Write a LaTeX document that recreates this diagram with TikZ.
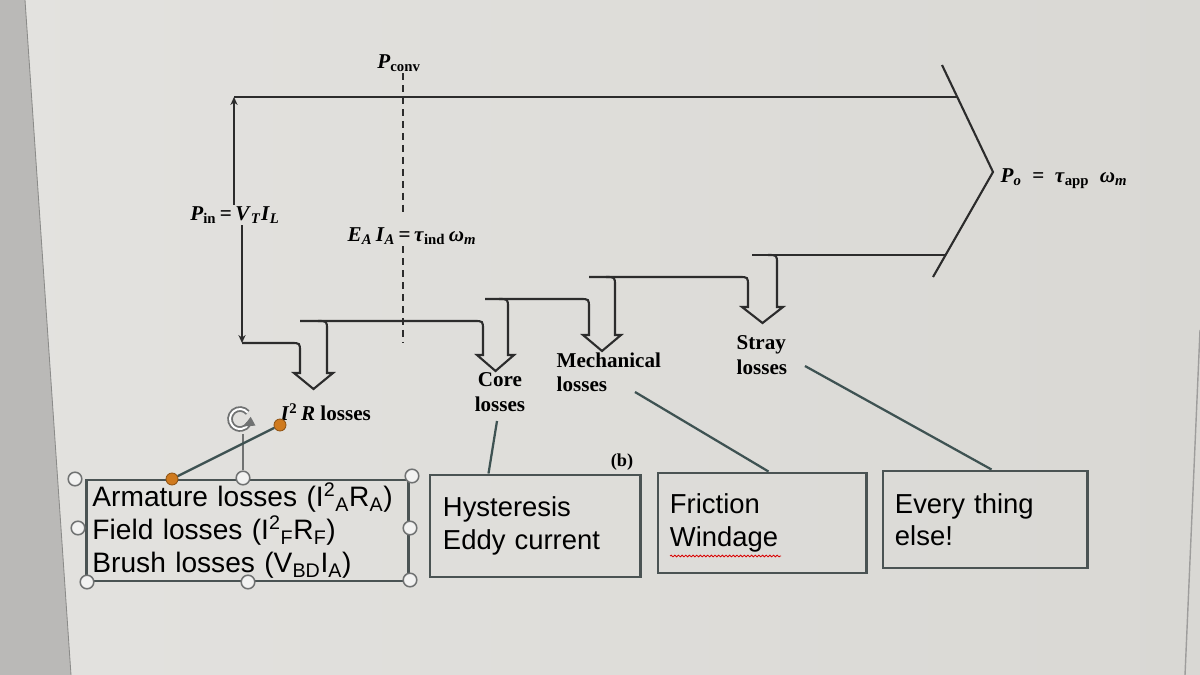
\documentclass[tikz,border=0pt]{standalone}
\usepackage{fontspec}
\setmainfont{Liberation Serif}
\newfontfamily\boxfont{Liberation Sans}
\usetikzlibrary{arrows.meta,calc,decorations.pathmorphing}

\definecolor{screenL}{HTML}{E3E2DF}
\definecolor{screenR}{HTML}{D9D8D4}
\definecolor{bezel}{HTML}{BAB9B7}
\definecolor{flow}{HTML}{2C2C2C}
\definecolor{frame}{HTML}{4A5353}
\definecolor{link}{HTML}{3E5252}
\definecolor{grip}{HTML}{707272}
\definecolor{dot}{HTML}{CF7A1E}

\newcommand{\bi}[1]{\textbf{\textit{#1}}}

\tikzset{
  flowline/.style={draw=flow, line width=1.5pt, line join=miter},
  lbl/.style={font=\fontsize{15}{17.5}\selectfont\bfseries, inner sep=1pt},
  textbox/.style={draw=frame, line width=2.1pt, inner ysep=0pt,
    font=\boxfont\fontsize{19.5}{23}\selectfont, align=left},
  connector/.style={draw=link, line width=1.6pt},
  handlept/.style={circle, draw=grip, fill=white!55!screenL, line width=1.1pt,
    minimum size=0.34cm, inner sep=0pt},
  orangept/.style={circle, draw=dot!70!black, fill=dot, line width=0.6pt,
    minimum size=0.3cm, inner sep=0pt}
}

\begin{document}
\begin{tikzpicture}[x=0.025cm, y=-0.025cm]
  \useasboundingbox (0,0) rectangle (1200,675);
  % screen
  \shade[left color=screenL, right color=screenR] (0,0) rectangle (1200,675);
  \fill[bezel] (0,0) -- (25,0) -- (71,675) -- (0,675) -- cycle;
  \draw[bezel!75!black, line width=0.6pt] (25,0) -- (71,675);
  \draw[bezel!85!black, line width=1pt] (1200,330) -- (1185,675);

  % power labels
  \node[lbl] (pconv) at (399,63) {\bi{P}\textsubscript{conv}};
  \node[lbl] (pin) at (235,215) {\bi{P}\textsubscript{in}\,=\,\bi{V}\textsubscript{\bi{T}}\bi{I}\textsubscript{\bi{L}}};
  \node[lbl] (eaia) at (412,236) {\bi{E}\textsubscript{\bi{A}}\,\bi{I}\textsubscript{\bi{A}}\,=\,\bi{τ}\textsubscript{ind}\,\bi{ω}\textsubscript{\bi{m}}};
  \node[lbl, anchor=west] (pout) at (999,179) {\bi{P}\textsubscript{\bi{o}}\enspace=\enspace\bi{τ}\textsubscript{app}\enspace\bi{ω}\textsubscript{\bi{m}}};

  \coordinate (inTop) at (234,97);
  \coordinate (inBot) at (242,343);
  \coordinate (convX) at (403,0);
  \coordinate (tipTop) at (942,65);
  \coordinate (tip) at (993,172);
  \coordinate (tipBot) at (933,277);

  % main band
  \draw[flowline, -{Stealth[length=0.2cm, width=0.18cm]}] (pin.north -| inTop) -- (inTop);
  \draw[flowline, -{Stealth[length=0.2cm, width=0.18cm]}] (pin.south -| inBot) -- (inBot);
  \draw[flowline] (inTop) -- (957,97);
  \draw[flowline] (tipTop) -- (tip) -- (tipBot);
  \draw[flowline] (752,255) -- (946,255);

  % loss branches
  \foreach \xs/\yp/\xl/\xr/\yt/\yb in {242/343/300/327/321/373, 300/321/483/508/299/355,
                                       485/299/589/615/277/335, 589/277/748/777/255/307}
    \draw[flowline] (\xs,\yp) -- (\xl-9,\yp) .. controls (\xl,\yp) .. (\xl,\yp+9)
      -- (\xl,\yb) -- (\xl-6,\yb) -- ({(\xl+\xr)/2},\yb+16) -- (\xr+6,\yb) -- (\xr,\yb)
      -- (\xr,\yt+9) .. controls (\xr,\yt) .. (\xr-9,\yt);

  % conversion line
  \draw[flowline, dash pattern=on 5pt off 3.5pt] (pconv.south -| convX) -- ($(eaia.north -| convX)+(0,-10)$);
  \draw[flowline, dash pattern=on 5pt off 3.5pt] (eaia.south -| convX) -- (convX |- inBot);

  % loss labels
  \node[lbl, anchor=west] (i2r) at (279,412) {\bi{I}\textsuperscript{2}\,\bi{R} losses};
  \node[lbl, align=center] (core) at (500,392) {Core\\losses};
  \node[lbl, align=left, anchor=north west] (mech) at (555,351) {Mechanical\\losses};
  \node[lbl, align=left, anchor=north west] (stray) at (735,334) {Stray\\losses};
  \node[lbl, font=\fontsize{13}{15}\selectfont\bfseries] (blabel) at (622,462) {(b)};

  % text boxes
  \node[textbox, font=\boxfont\fontsize{20}{23.5}\selectfont, text width=7.75cm, inner xsep=0.15cm,
        minimum height=2.525cm] (arm) at (247.5,530.5)
    {Armature losses (I\textsuperscript{2}\textsubscript{A}R\textsubscript{A})\\
     Field losses (I\textsuperscript{2}\textsubscript{F}R\textsubscript{F})\\
     Brush losses (V\textsubscript{BD}I\textsubscript{A})};
  \node[textbox, text width=4.6cm, inner xsep=0.325cm, minimum height=2.55cm] (hyst) at (535,526) {Hysteresis\\Eddy current};
  \node[textbox, text width=4.6cm, inner xsep=0.3cm, minimum height=2.5cm] (fric) at (762,523) {Friction\\Windage};
  \node[textbox, text width=4.5cm, inner xsep=0.3cm, minimum height=2.425cm] (rest) at (985,519.5) {Every thing\\else!};
  \draw[red!85!black, line width=0.6pt, decorate, decoration={snake, amplitude=0.6pt, segment length=2.6pt}]
    (670,556) -- (781,556);

  % connectors
  \coordinate (coreTail) at (497,421);
  \coordinate (mechTail) at (635,392);
  \coordinate (strayTail) at (805,366);
  \draw[connector] (coreTail) -- ($(hyst.north west)+(60,0)$);
  \draw[connector] (mechTail) -- ($(fric.north west)+(112,0)$);
  \draw[connector] (strayTail) -- ($(rest.north west)+(110,0)$);

  % selection handles
  \coordinate (rotc) at (240,419);
  \foreach \n/\x/\y in {1/75/479, 2/243/478, 3/412/476, 4/78/528,
                        5/410/528, 6/87/582, 7/248/582, 8/410/580}
    \node[handlept] (h\n) at (\x,\y) {};
  \draw[grip, line width=1.1pt] (h2) -- ($(rotc)+(3,15)$);
  \draw[grip, line width=4pt] ($(rotc)+(40:0.25cm)$) arc[start angle=40, end angle=330, radius=0.25cm];
  \draw[white, line width=1.4pt] ($(rotc)+(40:0.25cm)$) arc[start angle=40, end angle=330, radius=0.25cm];
  \fill[grip] ($(rotc)+(330:0.25cm)+(-0.13cm,-0.06cm)$) -- ++(0.3cm,0.02cm) -- ++(-0.12cm,0.22cm) -- cycle;
  \node[orangept] (dotA) at (280,425) {};
  \node[orangept] (dotB) at (172,479) {};
  \draw[connector] (dotA) -- (dotB);
\end{tikzpicture}
\end{document}
